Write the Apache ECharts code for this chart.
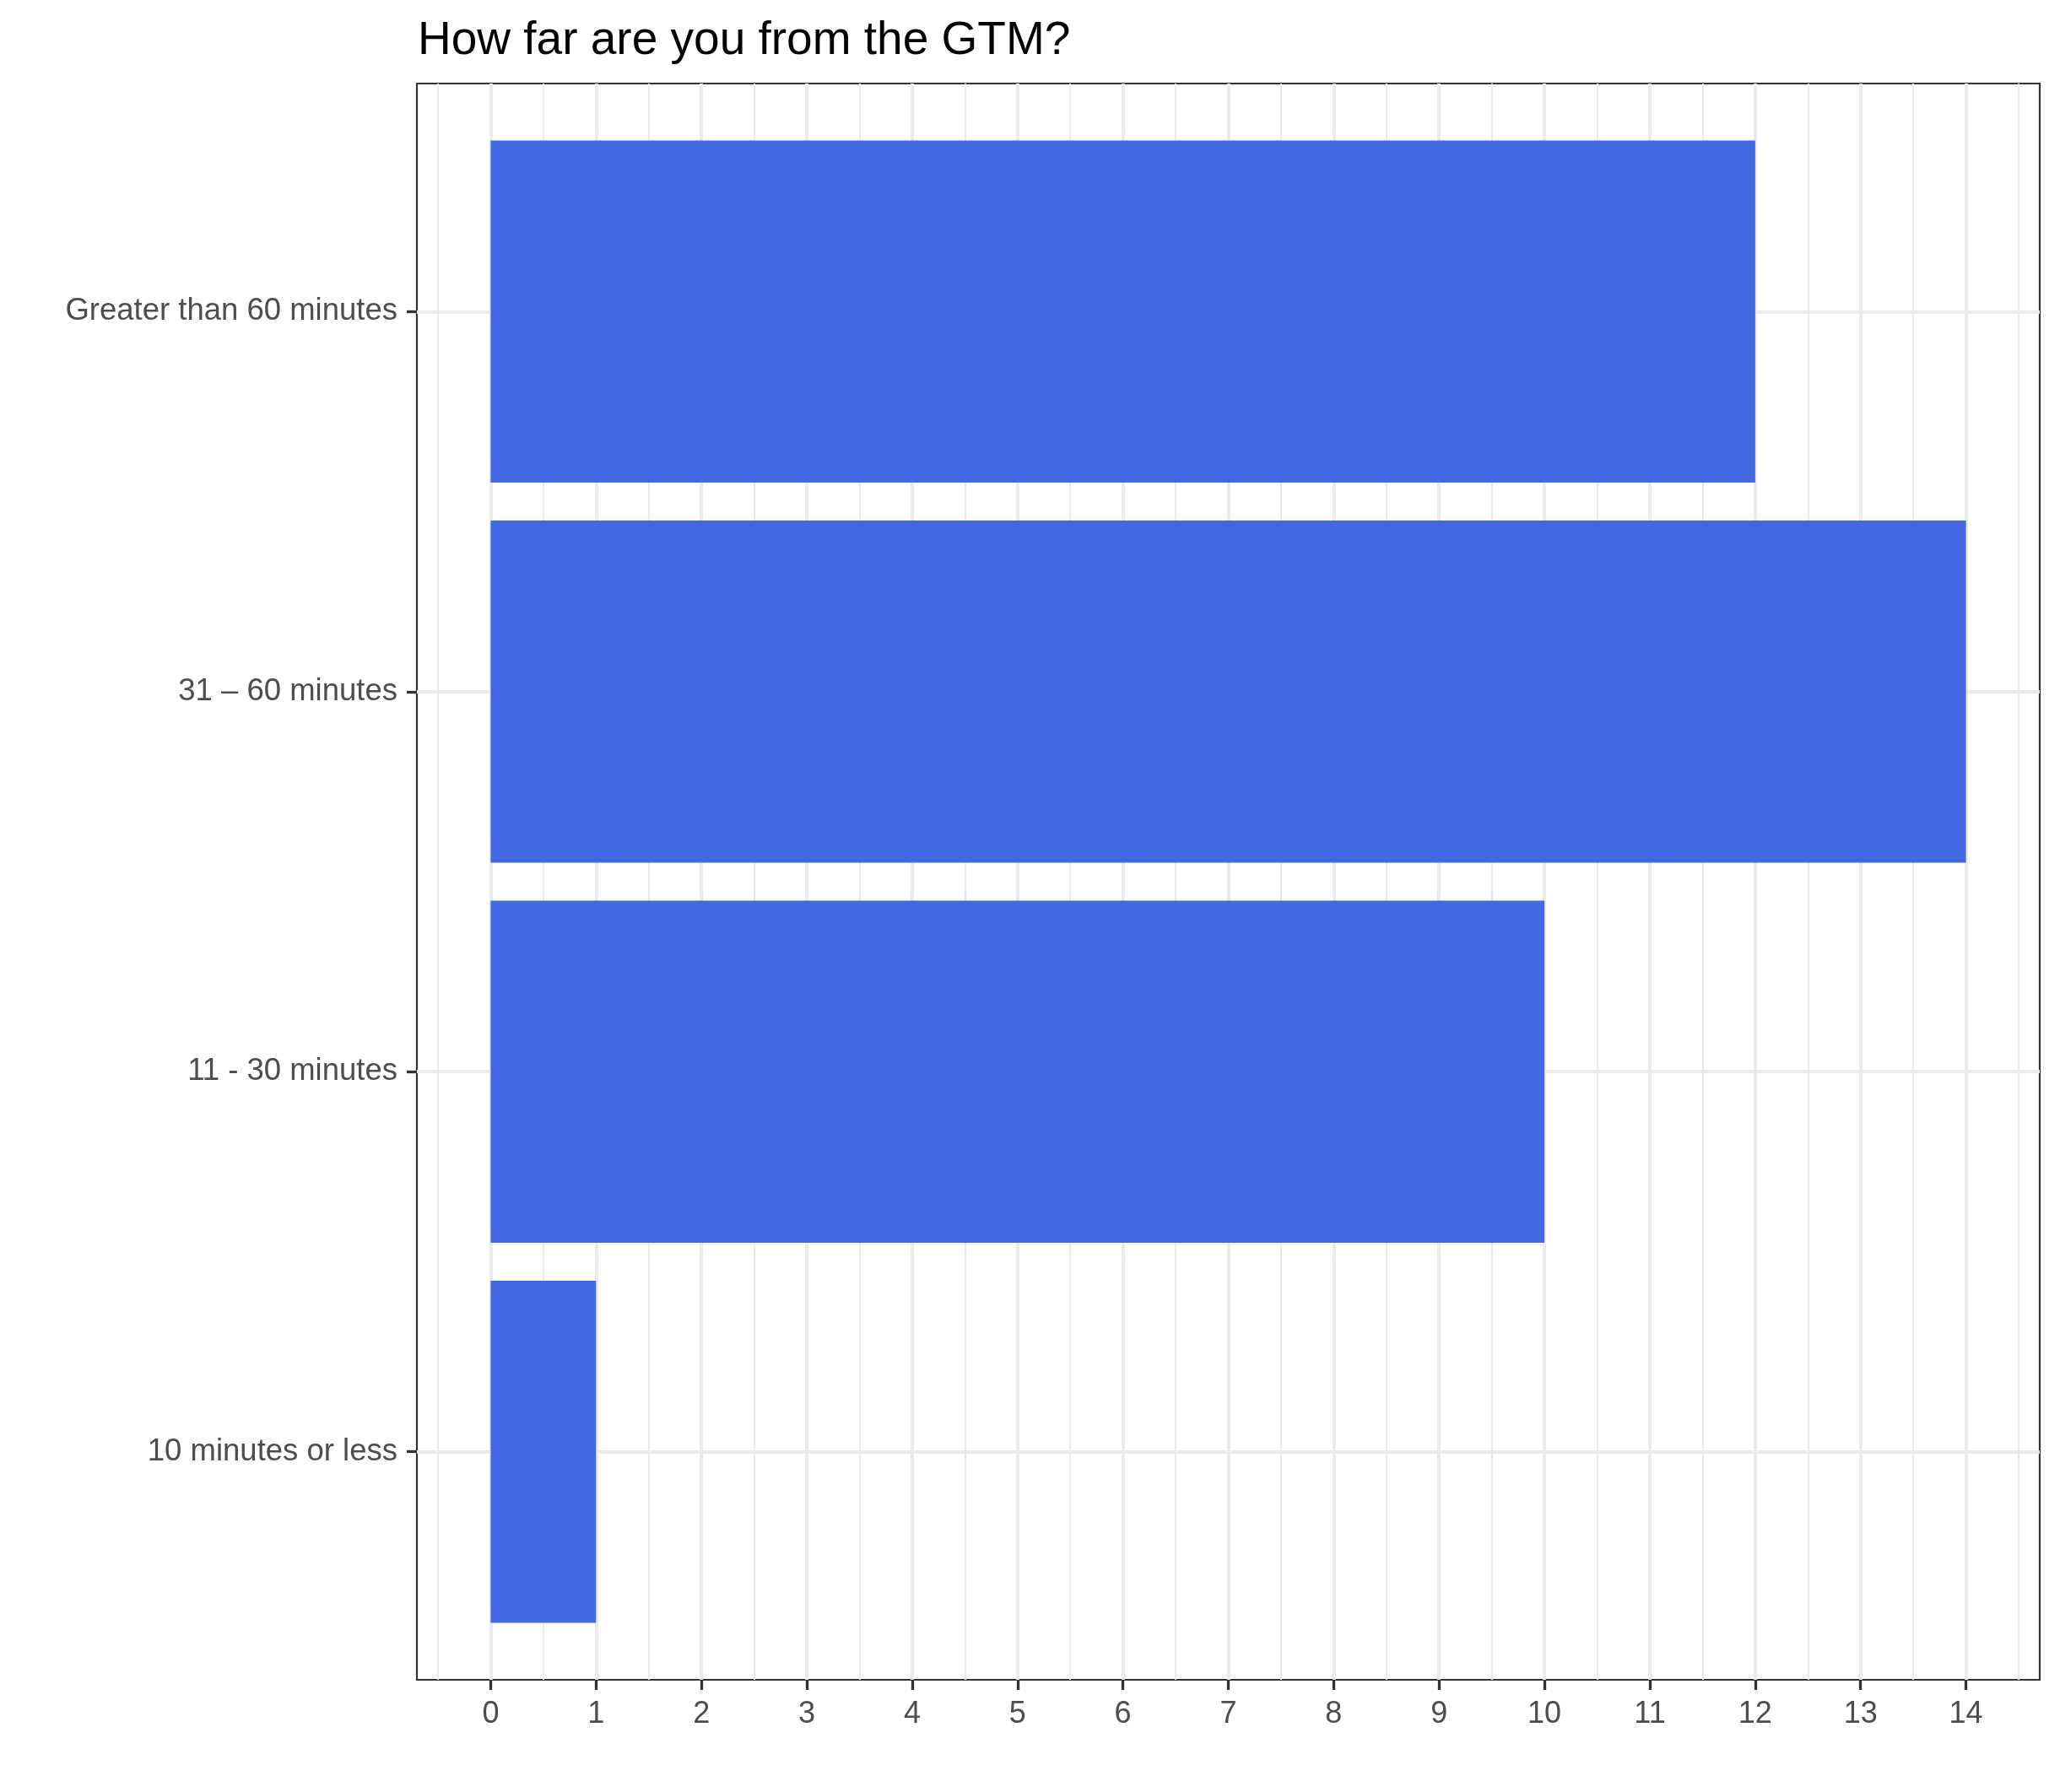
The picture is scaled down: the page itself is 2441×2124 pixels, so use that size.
<!DOCTYPE html>
<html>
<head>
<meta charset="utf-8">
<title>How far are you from the GTM?</title>
<script src="https://cdn.jsdelivr.net/npm/echarts@6/dist/echarts.min.js"></script>
<style>
  html, body { margin: 0; padding: 0; background: #fff; }
  #chart { width: 2441px; height: 2124px; }
</style>
</head>
<body>
<div id="chart"></div>
<script>
// categories bottom -> top, same order as the y positions 1..4
const categories = ['10 minutes or less', '11 - 30 minutes', '31 \u2013 60 minutes', 'Greater than 60 minutes'];
const counts = [1, 10, 14, 12];

const xTicks = [0, 1, 2, 3, 4, 5, 6, 7, 8, 9, 10, 11, 12, 13, 14];
const xMinorTicks = [-0.5, 0.5, 1.5, 2.5, 3.5, 4.5, 5.5, 6.5, 7.5, 8.5, 9.5, 10.5, 11.5, 12.5, 13.5, 14.5];
const yTicks = [1, 2, 3, 4];

const font = 'Liberation Sans';
const barHalf = 0.45;

const chart = echarts.init(document.getElementById('chart'), null, { renderer: 'canvas' });

const option = {
  animation: false,
  backgroundColor: '#ffffff',
  title: {
    text: 'How far are you from the GTM?',
    left: 495,
    top: 21,
    padding: 0,
    textStyle: { fontFamily: font, fontSize: 55, fontWeight: 'normal', color: '#000000' }
  },
  grid: {
    left: 494,
    right: 24,
    top: 99,
    bottom: 133,
    show: true,
    borderColor: '#333333',
    borderWidth: 2.2,
    backgroundColor: 'transparent'
  },
  xAxis: [
    {
      type: 'value',
      position: 'bottom',
      min: -0.7,
      max: 14.7,
      axisLine: { show: false, onZero: false },
      axisTick: { show: true, inside: false, length: 12, customValues: xTicks, lineStyle: { color: '#333333', width: 3.3 } },
      axisLabel: {
        customValues: xTicks,
        margin: 23,
        fontFamily: font,
        fontSize: 36,
        color: '#4D4D4D'
      },
      splitLine: { show: true, lineStyle: { color: '#EBEBEB', width: 4 } }
    },
    {
      // only here for the minor grid lines at the half steps
      type: 'value',
      position: 'bottom',
      min: -0.7,
      max: 14.7,
      axisLine: { show: false, onZero: false },
      axisTick: { show: false, customValues: xMinorTicks },
      axisLabel: { show: false },
      splitLine: { show: true, lineStyle: { color: '#EBEBEB', width: 2 } }
    }
  ],
  yAxis: {
    type: 'value',
    position: 'left',
    min: 0.4,
    max: 4.6,
    axisLine: { show: false, onZero: false },
    axisTick: { show: true, inside: false, length: 12, customValues: yTicks, lineStyle: { color: '#333333', width: 3.3 } },
    axisLabel: {
      customValues: yTicks,
      margin: 23,
      fontFamily: font,
      fontSize: 36.5,
      color: '#4D4D4D',
      formatter: v => categories[Math.round(v) - 1]
    },
    splitLine: { show: true, lineStyle: { color: '#EBEBEB', width: 4 } }
  },
  series: [
    {
      type: 'custom',
      xAxisIndex: 0,
      yAxisIndex: 0,
      encode: { x: 0, y: 1 },
      data: counts.map((v, i) => [v, i + 1]),
      renderItem: (params, api) => {
        const pos = api.value(1);
        const topLeft = api.coord([0, pos + barHalf]);
        const bottomRight = api.coord([api.value(0), pos - barHalf]);
        return {
          type: 'rect',
          shape: {
            x: topLeft[0],
            y: topLeft[1],
            width: bottomRight[0] - topLeft[0],
            height: bottomRight[1] - topLeft[1]
          },
          style: { fill: '#4169E1' }
        };
      }
    }
  ]
};

chart.setOption(option);
</script>
</body>
</html>
